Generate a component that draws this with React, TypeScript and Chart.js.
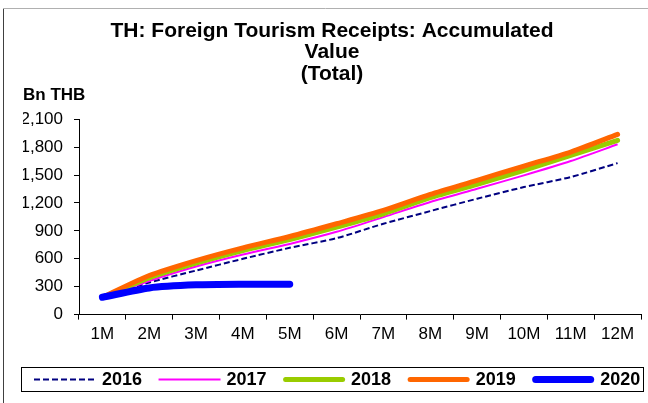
import React, { useEffect, useRef } from "react";
import { Chart, registerables } from "chart.js";

Chart.register(...registerables);

const categories = ["1M", "2M", "3M", "4M", "5M", "6M", "7M", "8M", "9M", "10M", "11M", "12M"];
const s2016 = [186, 345, 474, 600, 718, 822, 977, 1113, 1246, 1371, 1479, 1629];
const s2017 = [186, 362, 517, 646, 760, 890, 1048, 1210, 1353, 1497, 1651, 1831];
const s2018 = [186, 395, 553, 689, 807, 941, 1084, 1257, 1400, 1551, 1712, 1874];
const s2019 = [186, 420, 581, 718, 840, 977, 1120, 1292, 1443, 1597, 1748, 1938];
const s2020 = [186, 287, 320, 327, 327];
const titleLines = ["TH: Foreign Tourism Receipts: Accumulated", "Value", "(Total)"];
const unitLabel = "Bn THB";
const yMin = 0;
const yMax = 2100;
const yStep = 300;

const FONT = "'Liberation Sans', Arial, sans-serif";

const framePlugin = {
  id: "frame",
  beforeDraw(chart: any) {
    const ctx = chart.ctx;
    ctx.save();
    ctx.fillStyle = "#ffffff";
    ctx.fillRect(0, 0, chart.width, chart.height);
    ctx.lineWidth = 1;
    ctx.strokeStyle = "#b0b0b0";
    ctx.beginPath();
    ctx.moveTo(3, 8.5);
    ctx.lineTo(chart.width, 8.5);
    ctx.stroke();
    ctx.strokeStyle = "#404040";
    ctx.beginPath();
    ctx.moveTo(3.5, 9);
    ctx.lineTo(3.5, chart.height);
    ctx.stroke();
    ctx.restore();
  },
};

// Boxed legend drawn below the x axis, one row, read from the datasets.
const boxedLegendPlugin = {
  id: "boxedLegend",
  afterDraw(chart: any) {
    const ctx = chart.ctx;
    const boxL = 21, boxT = 367, boxW = 622, boxH = 24;
    const sample = 62, gapText = 6, gapItem = 16.5;
    const cy = boxT + boxH / 2 + 0.5;
    ctx.save();
    ctx.strokeStyle = "#000";
    ctx.lineWidth = 1;
    ctx.setLineDash([]);
    ctx.strokeRect(boxL + 0.5, boxT + 0.5, boxW, boxH);
    ctx.font = `bold 18px ${FONT}`;
    ctx.textBaseline = "middle";
    ctx.textAlign = "left";
    let x = 34;
    chart.data.datasets.forEach((ds: any) => {
      const w = ds.borderWidth || 1;
      const cap = ds.borderCapStyle || "butt";
      const inset = cap === "round" ? w / 2 : 0;
      ctx.beginPath();
      ctx.strokeStyle = ds.borderColor;
      ctx.lineWidth = w;
      ctx.lineCap = cap;
      ctx.setLineDash(ds.borderDash || []);
      ctx.moveTo(x + inset, cy);
      ctx.lineTo(x + sample - inset, cy);
      ctx.stroke();
      ctx.setLineDash([]);
      x += sample + gapText;
      ctx.fillStyle = "#000";
      ctx.fillText(ds.label, x, cy + 1);
      x += ctx.measureText(ds.label).width + gapItem;
    });
    ctx.restore();
  },
};

export default function App() {
  const ref = useRef<HTMLCanvasElement | null>(null);

  useEffect(() => {
    document.body.style.margin = "0";
    if (!ref.current) return;
    const chart = new Chart(ref.current, {
      type: "line",
      data: {
        labels: categories,
        datasets: [
          {
            label: "2016",
            data: s2016,
            borderColor: "#000080",
            backgroundColor: "#000080",
            borderWidth: 2,
            borderDash: [6, 3],
            order: 5,
          },
          {
            label: "2017",
            data: s2017,
            borderColor: "#ff00ff",
            backgroundColor: "#ff00ff",
            borderWidth: 2,
            order: 4,
          },
          {
            label: "2018",
            data: s2018,
            borderColor: "#99cc00",
            backgroundColor: "#99cc00",
            borderWidth: 5,
            borderCapStyle: "round",
            order: 3,
          },
          {
            label: "2019",
            data: s2019,
            borderColor: "#ff6600",
            backgroundColor: "#ff6600",
            borderWidth: 5,
            borderCapStyle: "round",
            order: 2,
          },
          {
            label: "2020",
            data: s2020,
            borderColor: "#0000ff",
            backgroundColor: "#0000ff",
            borderWidth: 7,
            borderCapStyle: "round",
            order: 1,
          },
        ],
      },
      options: {
        responsive: false,
        animation: false,
        devicePixelRatio: 1,
        layout: { padding: { left: 23, right: 7, top: 0, bottom: 53 } },
        elements: {
          point: { radius: 0, hoverRadius: 0 },
          line: { tension: 0.25, fill: false },
        },
        plugins: {
          title: {
            display: true,
            text: titleLines,
            color: "#000",
            font: { family: FONT, size: 21, weight: "bold", lineHeight: 1.03 },
            padding: { top: 20, bottom: 0 },
          },
          subtitle: {
            display: true,
            text: unitLabel,
            align: "start",
            color: "#000",
            font: { family: FONT, size: 17, weight: "bold", lineHeight: 1.2 },
            padding: { top: 0, bottom: 14 },
          },
          legend: { display: false },
          tooltip: { enabled: false },
        },
        scales: {
          x: {
            offset: true,
            grid: {
              offset: true,
              drawOnChartArea: false,
              drawTicks: true,
              tickLength: 5,
              color: "#000",
            },
            border: { display: true, color: "#000", width: 1 },
            ticks: {
              color: "#000",
              padding: 5,
              maxRotation: 0,
              autoSkip: false,
              font: { family: FONT, size: 17 },
            },
          },
          y: {
            min: yMin,
            max: yMax,
            grid: {
              drawOnChartArea: false,
              drawTicks: true,
              tickLength: 5,
              color: "#000",
            },
            border: { display: true, color: "#000", width: 1 },
            ticks: {
              stepSize: yStep,
              color: "#000",
              padding: 11,
              font: { family: FONT, size: 17 },
              callback: (v: any) => Number(v).toLocaleString("en-US"),
            },
            afterFit: (scale: any) => {
              scale.width = 56;
            },
          },
        },
      },
      plugins: [framePlugin, boxedLegendPlugin],
    } as any);
    return () => chart.destroy();
  }, []);

  return (
    <div style={{ width: 648, height: 403, position: "relative" }}>
      <canvas ref={ref} width={648} height={403} style={{ display: "block" }} />
    </div>
  );
}
